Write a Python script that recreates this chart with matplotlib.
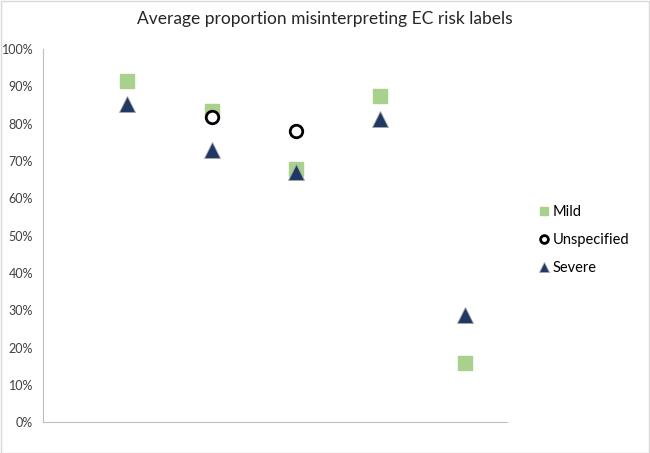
import matplotlib
matplotlib.use("Agg")
from matplotlib import pyplot as plt
from matplotlib.ticker import PercentFormatter

x_pos = [1, 2, 3, 4, 5]
mild = [0.914, 0.835, 0.678, 0.874, 0.158]
unspec_x = [2, 3]
unspecified = [0.818, 0.78]
severe = [0.853, 0.728, 0.67, 0.812, 0.287]

fig = plt.figure(figsize=(6.5, 4.53), dpi=100)
ax = fig.add_axes([0.066, 0.068, 0.714, 0.824])

ax.plot(x_pos, mild, 's', color='#a9d18e', markersize=10, label='Mild', linestyle='none')
ax.plot(unspec_x, unspecified, 'o', markerfacecolor='white', markeredgecolor='black',
        markeredgewidth=2, markersize=9, label='Unspecified', linestyle='none')
ax.plot(x_pos, severe, '^', color='#1f3864', markeredgecolor='#a6a6a6', markeredgewidth=0.6,
        markersize=12, label='Severe', linestyle='none')

ax.set_xlim(0, 5.5)
ax.set_ylim(0, 1)
ax.set_yticks([i / 10 for i in range(11)])
ax.yaxis.set_major_formatter(PercentFormatter(1.0, decimals=0))
ax.set_xticks([])
ax.tick_params(axis='y', length=0, labelsize=9, colors='#404040', pad=7)
for lbl in ax.get_yticklabels():
    lbl.set_family('Lato')
for s in ['top', 'right']:
    ax.spines[s].set_visible(False)
for s in ['left', 'bottom']:
    ax.spines[s].set_color('#bfbfbf')

fig.suptitle('Average proportion misinterpreting EC risk labels', y=0.975, fontsize=12.5,
             color='#262626', family='Lato')
leg = fig.legend(loc='center left', bbox_to_anchor=(0.805, 0.47), frameon=False,
                 handletextpad=0.1, labelspacing=0.95, markerscale=0.62, handlelength=1.0,
                 prop={'family': 'Lato', 'size': 10.5})

fig.patches.append(plt.Rectangle((0.001, 0.001), 0.997, 0.997, transform=fig.transFigure,
                                 fill=False, edgecolor='#d9d9d9', linewidth=1))
fig.savefig('out.png')
